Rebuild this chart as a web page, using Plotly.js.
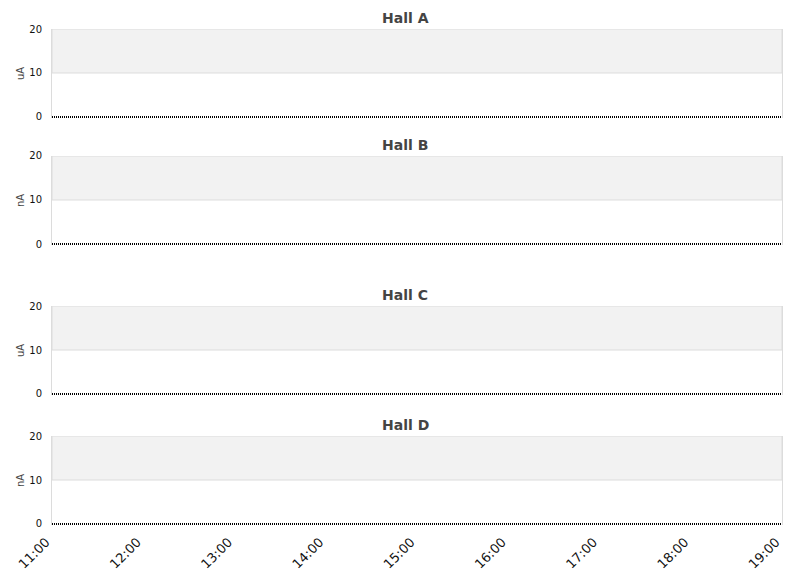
<!DOCTYPE html>
<html>
<head>
<meta charset="utf-8">
<script src="https://cdn.plot.ly/plotly-3.0.1.min.js"></script>
<style>
  html, body { margin: 0; padding: 0; background: #fff; }
  #chart { width: 811px; height: 578px; }
</style>
</head>
<body>
<div id="chart"></div>
<script>
// beam current readings, one per half hour
const times = [
  '2024-01-01 11:00', '2024-01-01 11:30', '2024-01-01 12:00', '2024-01-01 12:30',
  '2024-01-01 13:00', '2024-01-01 13:30', '2024-01-01 14:00', '2024-01-01 14:30',
  '2024-01-01 15:00', '2024-01-01 15:30', '2024-01-01 16:00', '2024-01-01 16:30',
  '2024-01-01 17:00', '2024-01-01 17:30', '2024-01-01 18:00', '2024-01-01 18:30',
  '2024-01-01 19:00'
]
const hallA = [0, 0, 0, 0, 0, 0, 0, 0, 0, 0, 0, 0, 0, 0, 0, 0, 0]
const hallB = [0, 0, 0, 0, 0, 0, 0, 0, 0, 0, 0, 0, 0, 0, 0, 0, 0]
const hallC = [0, 0, 0, 0, 0, 0, 0, 0, 0, 0, 0, 0, 0, 0, 0, 0, 0]
const hallD = [0, 0, 0, 0, 0, 0, 0, 0, 0, 0, 0, 0, 0, 0, 0, 0, 0]
const halls = ['Hall A', 'Hall B', 'Hall C', 'Hall D']
const units = ['uA', 'nA', 'uA', 'nA']
const yTicks = [0, 10, 20]
const xStart = '2024-01-01 11:00'
const xEnd = '2024-01-01 19:00'

const series = [hallA, hallB, hallC, hallD]
// one extra pixel below zero so the dotted zero line is not cut in half
const domains = [[0.8206, 1], [0.5645, 0.7440], [0.2621, 0.4415], [0, 0.1794]]

let data = []
let shapes = []
let annotations = []
let layout = {
  width: 811,
  height: 578,
  margin: { l: 52, r: 29, t: 29, b: 53 },
  paper_bgcolor: '#fff',
  plot_bgcolor: 'rgba(0,0,0,0)',
  showlegend: false,
  font: { family: 'DejaVu Sans', size: 10, color: '#111' },
  xaxis: {
    type: 'date',
    range: [xStart, xEnd],
    anchor: 'y4',
    dtick: 3600000,
    tickformat: '%H:%M',
    tickangle: -45,
    tickfont: { size: 13, color: '#111' },
    ticklabelstandoff: 6,
    ticklabelshift: -6,
    showgrid: false,
    zeroline: false,
    showline: false,
    ticks: ''
  }
}

for (let i = 0; i < 4; i++) {
  const ax = i == 0 ? 'y' : 'y' + (i + 1)
  const key = i == 0 ? 'yaxis' : 'yaxis' + (i + 1)
  data.push({
    type: 'scatter',
    mode: 'lines',
    x: times,
    y: series[i],
    xaxis: 'x',
    yaxis: ax,
    line: { color: '#000', width: 2, dash: '1px,1px' },
    hoverinfo: 'none'
  })
  layout[key] = {
    domain: domains[i],
    anchor: 'x',
    range: [-0.2273, 20],
    tickvals: yTicks,
    showgrid: false,
    zeroline: false,
    showline: true,
    mirror: true,
    linecolor: '#dcdcdc',
    linewidth: 1,
    ticks: '',
    ticklabelstandoff: 7,
    tickfont: { size: 10, color: '#111' },
    title: { text: units[i], font: { size: 10, color: '#444' }, standoff: 2 }
  }
  shapes.push({
    type: 'rect', layer: 'below',
    xref: 'paper', x0: 0, x1: 1,
    yref: ax, y0: 10, y1: 20,
    fillcolor: '#f2f2f2',
    line: { color: '#dcdcdc', width: 1 }
  })
  annotations.push({
    text: '<b>' + halls[i] + '</b>',
    xref: 'paper', yref: 'paper',
    x: 0.4842, y: domains[i][1],
    xanchor: 'center', yanchor: 'bottom',
    yshift: 1,
    showarrow: false,
    font: { family: 'DejaVu Sans', size: 14, color: '#444' }
  })
}
layout.shapes = shapes
layout.annotations = annotations

Plotly.newPlot('chart', data, layout, { displayModeBar: false, staticPlot: true })
</script>
</body>
</html>
